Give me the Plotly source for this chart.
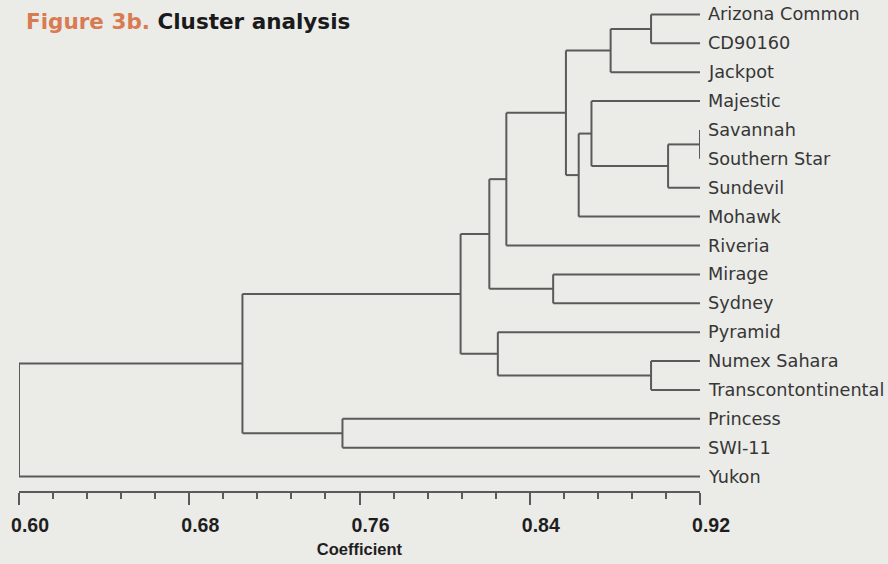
import plotly.graph_objects as go

# ---- data ----
leaves = ["Arizona Common", "CD90160", "Jackpot", "Majestic", "Savannah",
          "Southern Star", "Sundevil", "Mohawk", "Riveria", "Mirage", "Sydney",
          "Pyramid", "Numex Sahara", "Transcontontinental", "Princess", "SWI-11", "Yukon"]
# merges create clusters numbered 17, 18, ... (leaves are 0..16)
merge_left = [0, 17, 4, 19, 3, 21, 18, 23, 9, 24, 12, 11, 26, 14, 29, 31]
merge_right = [1, 2, 5, 6, 20, 7, 22, 8, 10, 25, 13, 27, 28, 15, 30, 16]
merge_height = [0.897, 0.878, 0.920, 0.905, 0.869, 0.863, 0.857, 0.829,
                0.851, 0.821, 0.897, 0.825, 0.8075, 0.752, 0.705, 0.600]
leaf_height = 0.92
tick_values = [0.60, 0.68, 0.76, 0.84, 0.92]
tick_labels = ["0.60", "0.68", "0.76", "0.84", "0.92"]

# ---- build dendrogram geometry ----
n = len(leaves)
pos_x = {i: leaf_height for i in range(n)}
pos_y = {i: float(i) for i in range(n)}
xs, ys = [], []
for k, (a, b, h) in enumerate(zip(merge_left, merge_right, merge_height)):
    cid = n + k
    for c in (a, b):
        xs += [pos_x[c], h, None]
        ys += [pos_y[c], pos_y[c], None]
    xs += [h, h, None]
    ys += [pos_y[a], pos_y[b], None]
    pos_x[cid] = h
    pos_y[cid] = (pos_y[a] + pos_y[b]) / 2.0

LINE = "#5a5a5a"
BG = "#ebebe8"
ML, MR, MT, MB = 19, 188, 0, 73
PW, PH = 888 - ML - MR, 564 - MT - MB

fig = go.Figure()
fig.add_trace(go.Scatter(x=xs, y=ys, mode="lines",
                         line=dict(color=LINE, width=2),
                         hoverinfo="skip", showlegend=False))

for i, name in enumerate(leaves):
    fig.add_annotation(x=leaf_height, y=i, xref="x", yref="y", text=name,
                       showarrow=False, xanchor="left", yanchor="middle",
                       xshift=6, font=dict(family="DejaVu Sans", size=17.7, color="#363636"))

fig.add_annotation(x=(24 - ML) / PW, y=(PH - 21) / PH, xref="paper", yref="paper",
                   text="<span style='color:#d97b52'>Figure 3b.</span> Cluster analysis",
                   showarrow=False, xanchor="left", yanchor="middle",
                   font=dict(family="DejaVu Sans", size=21.5, color="#1a1a1a", weight="bold"))

fig.update_layout(
    width=888, height=564,
    margin=dict(l=ML, r=MR, t=MT, b=MB),
    paper_bgcolor=BG, plot_bgcolor=BG,
    xaxis=dict(range=[0.60, 0.92], showgrid=False, zeroline=False,
               showline=True, linecolor=LINE, linewidth=2,
               ticks="outside", ticklen=12, tickwidth=2, tickcolor=LINE,
               tickvals=tick_values, ticktext=tick_labels,
               ticklabelshift=11, ticklabelstandoff=4,
               tickfont=dict(family="Liberation Sans", size=19.5, color="#1e1e1e", weight="bold"),
               minor=dict(tick0=0.60, dtick=0.016, ticks="outside", ticklen=6,
                          tickwidth=2, tickcolor=LINE, showgrid=False),
               title=dict(text="Coefficient", standoff=8,
                          font=dict(family="Liberation Sans", size=16.5, color="#1e1e1e", weight="bold"))),
    yaxis=dict(range=[16.5, -0.5], visible=False, showgrid=False, zeroline=False),
)

fig.write_html("out.html", config={"displayModeBar": False},
               post_script="document.body.style.margin='0';document.body.style.background='" + BG + "';")
